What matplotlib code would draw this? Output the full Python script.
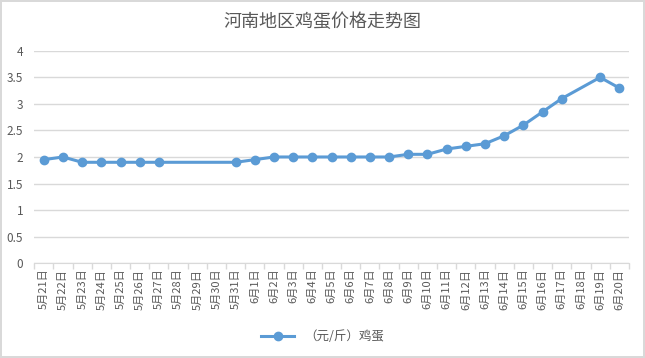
import numpy as np
import matplotlib
matplotlib.use("Agg")
import matplotlib.pyplot as plt

plt.rcParams['font.family'] = ['Noto Sans CJK SC', 'DejaVu Sans']

# data
dates = ["5月21日", "5月22日", "5月23日", "5月24日", "5月25日", "5月26日", "5月27日",
         "5月28日", "5月29日", "5月30日", "5月31日",
         "6月1日", "6月2日", "6月3日", "6月4日", "6月5日", "6月6日", "6月7日", "6月8日",
         "6月9日", "6月10日", "6月11日", "6月12日", "6月13日", "6月14日", "6月15日",
         "6月16日", "6月17日", "6月18日", "6月19日", "6月20日"]
prices = [1.95, 2.0, 1.9, 1.9, 1.9, 1.9, 1.9,
          np.nan, np.nan, np.nan, 1.9,
          1.95, 2.0, 2.0, 2.0, 2.0, 2.0, 2.0, 2.0,
          2.05, 2.05, 2.15, 2.2, 2.25, 2.4, 2.6,
          2.85, 3.1, np.nan, 3.5, 3.3]
series_name = "（元/斤）鸡蛋"

blue = "#5B9BD5"
grid = "#D9D9D9"
text = "#595959"

fig = plt.figure(figsize=(6.45, 3.58), dpi=100)
fig.patch.set_edgecolor(grid)
fig.patch.set_linewidth(1.5)
ax = fig.add_axes([0.053, 0.265, 0.922, 0.593])

x = np.arange(len(dates))
y = np.array(prices)
ok = ~np.isnan(y)
ax.plot(x[ok], y[ok], color=blue, lw=2.2, marker="o", ms=6, label=series_name)

ax.set_ylim(0, 4)
ax.set_yticks(np.arange(0, 4.01, 0.5))
ax.set_yticklabels(["0", "0.5", "1", "1.5", "2", "2.5", "3", "3.5", "4"])
ax.set_xlim(-0.5, len(dates) - 0.5)
ax.set_xticks(x)
ax.set_xticklabels(dates, rotation=90, fontsize=8, color=text)
ax.set_xticks(np.arange(-0.5, len(dates), 1), minor=True)
ax.tick_params(axis="x", which="major", length=0, pad=4)
ax.tick_params(axis="x", which="minor", length=4, color=grid, width=1)
ax.tick_params(axis="y", length=0, labelsize=8.5, labelcolor=text, pad=8)
ax.grid(axis="y", color=grid, lw=1)
ax.set_axisbelow(True)
for s in ["left", "right", "top"]:
    ax.spines[s].set_visible(False)
ax.spines["bottom"].set_color(grid)

fig.text(0.5, 0.94, "河南地区鸡蛋价格走势图", ha="center", va="center",
         fontsize=13, color=text)
fig.legend(loc="center", bbox_to_anchor=(0.5, 0.06), frameon=False,
           fontsize=9, labelcolor=text, handlelength=2.6)

fig.savefig("out.png", dpi=100)
